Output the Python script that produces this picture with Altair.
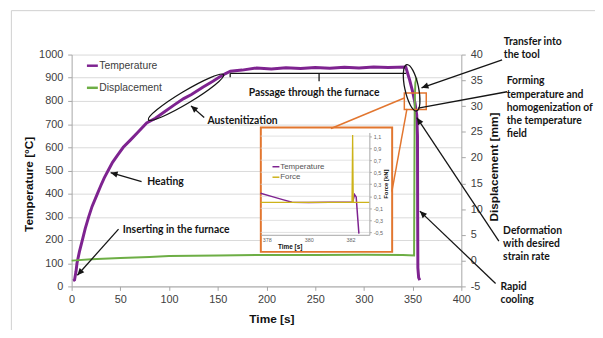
import altair as alt
import pandas as pd

# ---------------- data ----------------
temp_time = [1.5, 3, 4.5, 5.5, 8, 11, 14, 17.5, 21, 26.5, 30, 33.5, 37.5, 42, 47, 53, 60, 68, 77, 86,
             95, 105, 115, 123, 135, 145, 153, 158, 163, 175, 190, 205, 220, 235, 250, 265, 280, 295,
             310, 325, 343, 347, 350, 352.5, 354.2, 355, 355.2, 355.4, 356.2, 357.4]
temp_val = [24, 28, 65, 100, 150, 200, 250, 300, 345, 400, 435, 468, 500, 535, 565, 600, 630, 665, 705, 725,
            752, 782, 810, 828, 860, 885, 906, 918, 928, 933, 942, 938, 943, 940, 944, 941, 945, 942,
            946, 944, 946, 890, 840, 790, 740, 650, 300, 80, 38, 27]

disp_time = [0, 20, 50, 80, 100, 150, 200, 250, 300, 340, 351.5, 351.9, 352.2, 352.8, 354]
disp_val = [0.0, 0.25, 0.5, 0.7, 0.9, 1.0, 1.1, 1.1, 1.15, 1.1, 1.0, 20, 31, 34.5, 35.5]

inset_temp_time = [377.7, 378.3, 378.8, 379.2, 380, 381, 382.1, 382.19, 382.27, 382.33, 382.4]
inset_temp_val = [0.15, 0.09, 0.04, 0.0, -0.005, 0.0, 0.0, 0.13, 0.09, -0.2, -0.52]
inset_force_time = [377.7, 382.07, 382.1, 382.13, 382.9]
inset_force_val = [0.0, 0.0, 1.12, 0.0, 0.0]

x_ticks = [0, 50, 100, 150, 200, 250, 300, 350, 400]
y_left_ticks = [0, 100, 200, 300, 400, 500, 600, 700, 800, 900, 1000]
y_right_ticks = [-5, 0, 5, 10, 15, 20, 25, 30, 35, 40]
inset_x_ticks = [378, 380, 382]
inset_y_ticks = [1.1, 0.9, 0.7, 0.5, 0.3, 0.1, -0.1, -0.3, -0.5]

series_names = ["Temperature", "Displacement"]
inset_names = ["Temperature", "Force"]

# annotation texts (in time / temperature units)
note_labels = ["Heating", "Inserting in the furnace", "Austenitization", "Passage through the furnace",
               "Transfer into", "the tool", "Forming", "temperature and", "homogenization of",
               "the temperature", "field", "Deformation", "with desired", "strain rate", "Rapid", "cooling"]
note_t = [77.6, 52.5, 139.4, 181.7, 443.6, 443.6, 446.6, 446.6, 446.6, 446.6, 446.6,
          442.9, 442.9, 442.9, 440.2, 440.2]
note_T = [448.1, 243.8, 714.9, 835.3, 1055.3, 998.7, 885.1, 825.5, 768.9, 711.9, 655.3,
          239.6, 183.0, 126.4, -1.3, -58.3]

# ---------------- styles ----------------
PURPLE = "#7E2390"
GREEN = "#6DAE45"
ORANGE = "#E2762F"
YELLOW = "#CDB31A"
BLACK = "#151515"
FONT = "Liberation Sans"
NOTE_FONT = "Lato"

XS = alt.Scale(domain=[0, 400], nice=False, zero=False)
YL = alt.Scale(domain=[0, 1000], nice=False, zero=False)
YR = alt.Scale(domain=[-5, 40], nice=False, zero=False)
IX = alt.Scale(domain=[377.7, 382.9], range=[191.5, 301.8], nice=False, zero=False)
IY = alt.Scale(domain=[-0.54, 1.16], range=[182.7, 79], nice=False, zero=False)


def ex(field, scale=XS, axis=None):
    return alt.X(field, type="quantitative", scale=scale, axis=axis)


def ey(field, scale=YL, axis=None):
    return alt.Y(field, type="quantitative", scale=scale, axis=axis)


df_temp = pd.DataFrame({"time": temp_time, "val": temp_val})
df_disp = pd.DataFrame({"time": disp_time, "val": disp_val})
df_itemp = pd.DataFrame({"time": inset_temp_time, "val": inset_temp_val})
df_iforce = pd.DataFrame({"time": inset_force_time, "val": inset_force_val})

# frame around the slide picture
frame = alt.Chart(pd.DataFrame({"t1": [-61.85, -61.85], "T1": [1189.4, 1189.4],
                                "t2": [-61.85, 537.9], "T2": [-212.8, 1189.4]})).mark_rule(
    color="#CFCFCF", strokeWidth=1).encode(x=ex("t1"), y=ey("T1"), x2="t2", y2="T2")

temp_line = alt.Chart(df_temp).mark_line(color=PURPLE, strokeWidth=3).encode(
    x=ex("time", axis=alt.Axis(values=x_ticks, title="Time [s]", grid=False, labelFlush=False,
                               tickSize=4, labelPadding=3, titlePadding=10, titleX=202.5,
                               labelExpr="'' + datum.value")),
    y=ey("val", axis=alt.Axis(values=y_left_ticks, title="Temperature [°C]", grid=True,
                              tickSize=4, labelPadding=5, titlePadding=3, titleY=131,
                              labelExpr="'' + datum.value")),
)

disp_line = alt.Chart(df_disp).mark_line(color=GREEN, strokeWidth=2).encode(
    x=ex("time"),
    y=ey("val", scale=YR, axis=alt.Axis(orient="right", values=y_right_ticks, title="Displacement [mm]",
                                        grid=False, tickSize=4, labelPadding=5, titlePadding=6,
                                        titleY=113.5, titleAngle=270, titleBaseline="top",
                                        labelExpr="'' + datum.value")),
)

# main legend
leg = pd.DataFrame({"name": series_names, "t1": [15.7, 15.7], "t2": [26.9, 26.9], "T": [951.9, 856.6],
                    "tt": [28.4, 28.4]})
leg_lines = alt.Chart(leg).mark_rule(strokeWidth=2.5).encode(
    x=ex("t1"), x2="t2", y=ey("T"),
    color=alt.Color("name:N", scale=alt.Scale(domain=series_names, range=[PURPLE, GREEN]), legend=None))
leg_text = alt.Chart(leg).mark_text(align="left", baseline="middle", font=FONT, fontSize=10.5,
                                    color="#404040").encode(x=ex("tt"), y=ey("T"), text="name:N")

# inset box
inset_box = alt.Chart(pd.DataFrame({"t1": [194.2], "t2": [329.0], "T1": [148.9], "T2": [685.1]})).mark_rect(
    fill="white", stroke=ORANGE, strokeWidth=2).encode(x=ex("t1"), x2="t2", y=ey("T1"), y2="T2")

inset_grid = alt.Chart(pd.DataFrame({"v": inset_y_ticks, "a": [377.7] * 9, "b": [382.9] * 9})).mark_rule(
    color="#D9D9D9", strokeWidth=0.8).encode(x=ex("a", scale=IX), x2="b", y=ey("v", scale=IY))

inset_temp = alt.Chart(df_itemp).mark_line(color=PURPLE, strokeWidth=1.5).encode(
    x=ex("time", scale=IX), y=ey("val", scale=IY))

inset_force = alt.Chart(df_iforce).mark_line(color=YELLOW, strokeWidth=1.3).encode(
    x=ex("time", scale=IX, axis=alt.Axis(orient="bottom", offset=-52.3, values=inset_x_ticks, grid=False,
                                         ticks=False, labelFlush=False, labelFontSize=5.5, labelPadding=3,
                                         labelColor="#666", domainColor="#A6A6A6", title="Time [s]",
                                         titleFontSize=6.5, titlePadding=0, titleX=221, zindex=2)),
    y=ey("val", scale=IY, axis=alt.Axis(orient="right", offset=-93.2, values=inset_y_ticks, grid=False,
                                        tickSize=2, labelFontSize=5.5, labelPadding=2, labelColor="#666",
                                        domainColor="#A6A6A6", labelOverlap=False,
                                        labelExpr="replace(replace(format(datum.value, '.1f'), '.', ','), '\u2212', '-')",
                                        title="Force [kN]", titleFontSize=6, titleAngle=270,
                                        titleBaseline="top", titlePadding=0, zindex=2)),
)

ileg = pd.DataFrame({"name": inset_names, "t1": [378.27, 378.27], "t2": [378.6, 378.6], "v": [0.591, 0.417],
                     "tt": [378.64, 378.64]})
ileg_lines = alt.Chart(ileg).mark_rule(strokeWidth=1.5).encode(
    x=ex("t1", scale=IX), x2="t2", y=ey("v", scale=IY),
    color=alt.Color("name:N", scale=alt.Scale(domain=inset_names, range=[PURPLE, YELLOW]), legend=None))
ileg_text = alt.Chart(ileg).mark_text(align="left", baseline="middle", font=FONT, fontSize=8,
                                      color="#555").encode(x=ex("tt", scale=IX), y=ey("v", scale=IY),
                                                           text="name:N")

# orange connectors and zoom rectangle
connectors = alt.Chart(pd.DataFrame({"t1": [266.2, 328.7], "T1": [680.9, 408.5],
                                     "t2": [341.5, 344.2], "T2": [812.8, 766.0]})).mark_rule(
    color=ORANGE, strokeWidth=1.5).encode(x=ex("t1"), y=ey("T1"), x2="t2", y2="T2")
zoom_rect = alt.Chart(pd.DataFrame({"t1": [341.5], "t2": [364.0], "T1": [763.0], "T2": [834.0]})).mark_rect(
    fill=None, fillOpacity=0, stroke=ORANGE, strokeWidth=1.5).encode(x=ex("t1"), x2="t2", y=ey("T1"), y2="T2")

# black annotation lines
arrows = alt.Chart(pd.DataFrame({
    "t1": [71.79, 48.16, 136.07, 441.87, 446.94, 438.53, 435.18, 162.74, 253.99, 162.74],
    "T1": [452.3, 246.8, 728.9, 977.4, 839.6, 195.7, 12.8, 919.1, 919.1, 919.1],
    "t2": [40.05, 5.88, 122.48, 359.14, 355.69, 354.37, 357.42, 343.22, 253.99, 162.74],
    "T2": [490.6, 48.1, 778.7, 856.6, 768.9, 727.7, 324.7, 919.1, 885.1, 902.1],
})).mark_rule(color=BLACK, strokeWidth=1.3).encode(x=ex("t1"), y=ey("T1"), x2="t2", y2="T2")

heads = alt.Chart(pd.DataFrame({
    "t": [40.05, 5.88, 122.48, 359.14, 354.37, 357.42],
    "T": [490.6, 48.1, 778.7, 856.6, 727.7, 324.7],
    "ang": [286.0, 221.8, 311.1, 250.8, 326.4, 313.7],
})).mark_point(shape="M 0 0 L 0.45 1 L -0.45 1 Z", filled=True, size=196, color=BLACK, opacity=1).encode(
    x=ex("t"), y=ey("T"), angle=alt.Angle("ang:Q", scale=None))

ellipse1 = alt.Chart(pd.DataFrame({"t": [117.4], "T": [815.7]})).mark_point(
    shape="M -1 0 A 1 0.14 0 1 0 1 0 A 1 0.14 0 1 0 -1 0 Z", filled=False, size=7921, angle=329,
    color=BLACK, strokeWidth=1.3, opacity=1).encode(x=ex("t"), y=ey("T"))
ellipse2 = alt.Chart(pd.DataFrame({"t": [349.0], "T": [856.6]})).mark_point(
    shape="M 0 -1 A 0.29 1 0 1 0 0 1 A 0.29 1 0 1 0 0 -1 Z", filled=False, size=2304, angle=348,
    color=BLACK, strokeWidth=1.3, opacity=1).encode(x=ex("t"), y=ey("T"))

notes = alt.Chart(pd.DataFrame({"t": note_t, "T": note_T, "label": note_labels})).mark_text(
    align="left", baseline="middle", font=NOTE_FONT, fontWeight="bold", fontSize=10.5, color=BLACK).encode(
    x=ex("t"), y=ey("T"), text="label:N")

chart = alt.layer(
    frame, temp_line, disp_line, inset_box, inset_grid, inset_temp, inset_force, ileg_lines, ileg_text,
    leg_lines, leg_text, connectors, zoom_rect, arrows, heads, ellipse1, ellipse2, notes,
).resolve_scale(x="independent", y="independent", color="independent").properties(
    width=395, height=235,
    autosize=alt.AutoSizeParams(type="none"),
    padding={"left": 64.5, "top": 45, "right": 135.5, "bottom": 42},
    background="white",
).configure_view(strokeWidth=0).configure_axis(
    labelFont=FONT, labelFontSize=11, labelColor="#404040",
    titleFont=FONT, titleFontSize=12, titleFontWeight="bold", titleColor="#111",
    domainColor="#A6A6A6", tickColor="#A6A6A6", gridColor="#D9D9D9",
)

chart.save("out.html", embed_options={"renderer": "svg", "actions": False})
